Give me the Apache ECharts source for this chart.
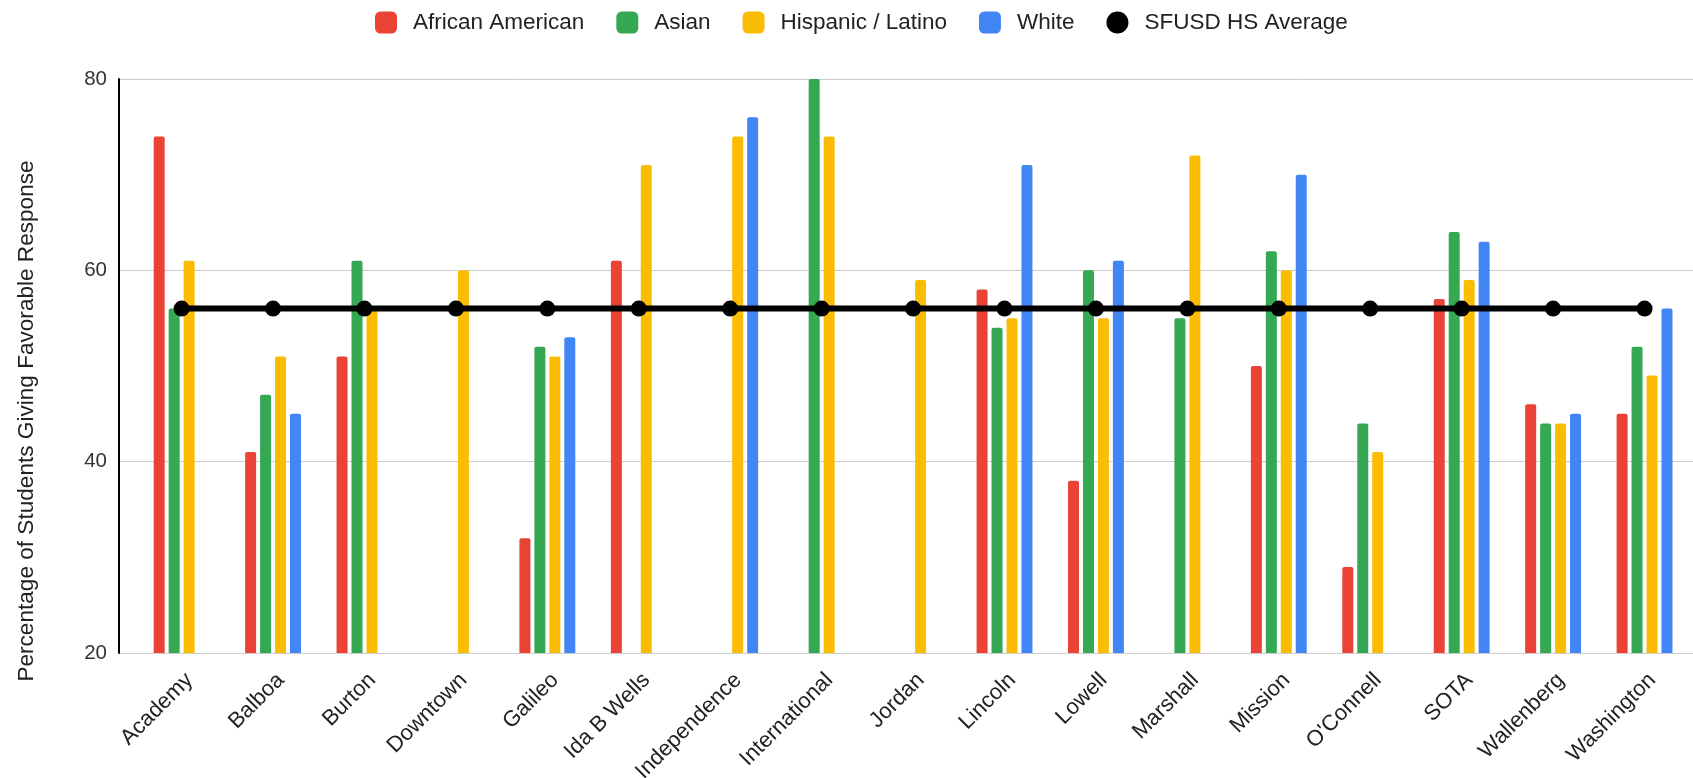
<!DOCTYPE html>
<html>
<head>
<meta charset="utf-8">
<title>Favorable Response by School</title>
<script src="https://cdn.jsdelivr.net/npm/echarts@6/dist/echarts.min.js"></script>
<style>
  html, body { margin: 0; padding: 0; background: #fff; }
  #chart { width: 1693px; height: 778px; }
</style>
</head>
<body>
<div id="chart"></div>
<script>
// School names along the x axis
const schools = ['Academy', 'Balboa', 'Burton', 'Downtown', 'Galileo', 'Ida B Wells', 'Independence',
  'International', 'Jordan', 'Lincoln', 'Lowell', 'Marshall', 'Mission', "O'Connell", 'SOTA',
  'Wallenberg', 'Washington'];

// Percent of students giving a favorable response, by group (null = no data)
const africanAmerican = [74, 41, 51, null, 32, 61, null, null, null, 58, 38, null, 50, 29, 57, 46, 45];
const asian           = [56, 47, 61, null, 52, null, null, 80, null, 54, 60, 55, 62, 44, 64, 44, 52];
const hispanicLatino  = [61, 51, 56, 60, 51, 71, 74, 74, 59, 55, 55, 72, 60, 41, 59, 44, 49];
const white           = [null, 45, null, null, 53, null, 76, null, null, 71, 61, null, 70, null, 63, 45, 56];
const hsAverage       = [56, 56, 56, 56, 56, 56, 56, 56, 56, 56, 56, 56, 56, 56, 56, 56, 56];

const yTicks = [20, 40, 60, 80];

const FONT = "'Liberation Sans', Arial, Helvetica, sans-serif";

// pair each value with its school index for the numeric x axis
function toPoints(arr) {
  const out = [];
  arr.forEach((v, i) => { if (v !== null) out.push([i, v]); });
  return out;
}

function barSeries(name, color, values) {
  return {
    name: name,
    type: 'bar',
    data: toPoints(values),
    barWidth: 11,
    barGap: '36%',
    itemStyle: { color: color, borderRadius: [2, 2, 0, 0] },
    emphasis: { disabled: true }
  };
}

const chart = echarts.init(document.getElementById('chart'), null, { renderer: 'canvas' });

chart.setOption({
  animation: false,
  backgroundColor: '#ffffff',
  textStyle: { fontFamily: FONT },
  legend: {
    left: 370,
    top: 6,
    itemWidth: 22,
    itemHeight: 22,
    itemGap: 32,
    textStyle: { fontSize: 22.5, color: '#222', fontFamily: FONT, padding: [0, 0, 0, 11] },
    data: [
      { name: 'African American', icon: 'roundRect' },
      { name: 'Asian', icon: 'roundRect' },
      { name: 'Hispanic / Latino', icon: 'roundRect' },
      { name: 'White', icon: 'roundRect' },
      { name: 'SFUSD HS Average', icon: 'circle' }
    ]
  },
  grid: {
    left: 119,
    right: 0,
    top: 79,
    bottom: 125,
    containLabel: false,
    outerBoundsMode: 'none'
  },
  xAxis: {
    type: 'value',
    min: -0.685,
    max: 16.53,
    axisLine: { show: false },
    axisTick: { show: false },
    splitLine: { show: false },
    axisLabel: {
      customValues: schools.map((s, i) => i),
      formatter: (v) => schools[Math.round(v)],
      rotate: 45,
      verticalAlign: 'top',
      fontSize: 22,
      color: '#222',
      fontFamily: FONT,
      margin: 16
    }
  },
  yAxis: {
    type: 'value',
    min: yTicks[0],
    max: yTicks[yTicks.length - 1],
    interval: 20,
    axisLine: { show: true, onZero: false, lineStyle: { color: '#000', width: 2 } },
    axisTick: { show: false },
    axisLabel: { fontSize: 20.5, color: '#333', fontFamily: FONT, margin: 12 },
    splitLine: { show: true, lineStyle: { color: '#cccccc', width: 1 } }
  },
  graphic: [{
    type: 'text',
    x: 27,
    y: 421,
    rotation: Math.PI / 2,
    style: {
      text: 'Percentage of Students Giving Favorable Response',
      fontSize: 22.6,
      fontFamily: FONT,
      fill: '#222',
      align: 'center',
      verticalAlign: 'middle'
    }
  }],
  series: [
    barSeries('African American', '#EA4335', africanAmerican),
    barSeries('Asian', '#34A853', asian),
    barSeries('Hispanic / Latino', '#FBBC04', hispanicLatino),
    barSeries('White', '#4285F4', white),
    {
      name: 'SFUSD HS Average',
      type: 'line',
      data: toPoints(hsAverage),
      symbol: 'circle',
      symbolSize: 16,
      z: 10,
      lineStyle: { color: '#000', width: 6 },
      itemStyle: { color: '#000' },
      emphasis: { disabled: true }
    }
  ]
});
</script>
</body>
</html>
